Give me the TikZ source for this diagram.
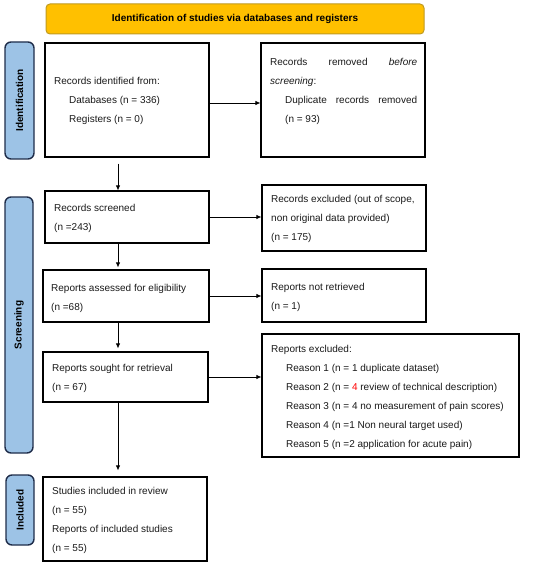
\documentclass[tikz,border=0pt]{standalone}
\usepackage{fontspec}
\setmainfont{Liberation Sans}
\usetikzlibrary{arrows.meta,calc}
\definecolor{hdrfill}{HTML}{FFC000}
\definecolor{hdrdraw}{HTML}{C09A20}
\definecolor{labfill}{HTML}{9DC3E6}
\definecolor{labdraw}{HTML}{1F2D4A}
\definecolor{txt}{HTML}{1A1A1A}
\begin{document}
\begin{tikzpicture}[x=1pt,y=-1pt,
  box/.style={draw=black, line width=1.1pt, inner sep=0pt, fill=white},
  hdr/.style={draw=hdrdraw, fill=hdrfill, line width=1pt, rounded corners=4pt, inner sep=0pt,
    font=\fontsize{10}{12}\selectfont\bfseries, text=black},
  lab/.style={draw=labdraw, fill=labfill, line width=1.4pt, rounded corners=6pt, inner sep=0pt},
  labtxt/.style={rotate=90, font=\fontsize{10}{12}\selectfont\bfseries, text=black, inner sep=0pt},
  txtnode/.style={anchor=base west, inner sep=0pt, text=txt, font=\fontsize{10}{19}\selectfont},
  arr/.style={-{Latex[length=5pt,width=4.5pt]}, line width=0.8pt, draw=black}]
\useasboundingbox (0,0) rectangle (550,564);
% header
\node[hdr, minimum width=378pt, minimum height=30pt] (hdr) at (235,19) {Identification of studies via databases and registers};
% side labels
\node[lab, minimum width=29pt, minimum height=117pt] (idlab) at (19.5,100.5) {};
\node[labtxt] (idlabt) at (idlab.center) {Identification};
\node[lab, minimum width=28pt, minimum height=256pt] (scrlab) at (19,325) {};
\node[labtxt] (scrlabt) at (scrlab.center) {Screening};
\node[lab, minimum width=28pt, minimum height=70pt] (inclab) at (20,510) {};
\node[labtxt] (inclabt) at (inclab.center) {Included};
% boxes
\node[box, minimum width=164pt, minimum height=114pt] (b1) at (127,100) {};
\node[box, minimum width=164pt, minimum height=114pt] (b2) at (343,100) {};
\node[box, minimum width=164pt, minimum height=52pt] (b3) at (127,217) {};
\node[box, minimum width=164pt, minimum height=66pt] (b4) at (344,218) {};
\node[box, minimum width=166pt, minimum height=52pt] (b5) at (126,296) {};
\node[box, minimum width=164pt, minimum height=53pt] (b6) at (344,295.5) {};
\node[box, minimum width=165pt, minimum height=50pt] (b7) at (125.5,377) {};
\node[box, minimum width=257pt, minimum height=123pt] (b8) at (390.5,395.5) {};
\node[box, minimum width=164pt, minimum height=84pt] (b9) at (125,519) {};
% texts
\node[txtnode] (t1) at (54,84.5) {\parbox[t]{150pt}{\baselineskip=19pt Records identified from:\\
\hspace*{15pt}Databases (n = 336)\\
\hspace*{15pt}Registers (n = 0)}};
\node[txtnode] (t2) at (270,65.5) {\parbox[t]{147pt}{\baselineskip=19pt\spaceskip=0.278em plus 3em
Records removed \textit{before}\linebreak \textit{screening}:\par
\leftskip=15pt Duplicate records removed\linebreak (n = 93)\par}};
\node[txtnode] (t3) at (54,211.5) {\parbox[t]{150pt}{\baselineskip=19pt Records screened\\(n =243)}};
\node[txtnode] (t4) at (271,202.5) {\parbox[t]{152pt}{\baselineskip=19pt Records excluded (out of scope,\\non original data provided)\\(n = 175)}};
\node[txtnode] (t5) at (51,291.5) {\parbox[t]{155pt}{\baselineskip=19pt Reports assessed for eligibility\\(n =68)}};
\node[txtnode] (t6) at (271,290.5) {\parbox[t]{150pt}{\baselineskip=19pt Reports not retrieved\\(n = 1)}};
\node[txtnode] (t7) at (52,371.5) {\parbox[t]{150pt}{\baselineskip=19pt Reports sought for retrieval\\(n = 67)}};
\node[txtnode] (t8) at (271,352.5) {\parbox[t]{245pt}{\baselineskip=19pt Reports excluded:\\
\hspace*{15pt}Reason 1 (n = 1 duplicate dataset)\\
\hspace*{15pt}Reason 2 (n = \textcolor{red}{4} review of technical description)\\
\hspace*{15pt}Reason 3 (n = 4 no measurement of pain scores)\\
\hspace*{15pt}Reason 4 (n =1 Non neural target used)\\
\hspace*{15pt}Reason 5 (n =2 application for acute pain)}};
\node[txtnode] (t9) at (52,494.5) {\parbox[t]{150pt}{\baselineskip=19pt Studies included in review\\(n = 55)\\Reports of included studies\\(n = 55)}};
% arrows
\coordinate (ax) at (118,0);
\draw[arr] ([yshift=-3pt]b1.east) -- ([yshift=-3pt]b1.east -| b2.west);
\draw[arr] (b3.east) -- (b3.east -| b4.west);
\draw[arr] (b5.east) -- (b5.east -| b6.west);
\draw[arr] (b7.east) -- (b7.east -| b8.west);
\draw[arr, shorten <=6pt] (b1.south -| ax) -- (b3.north -| ax);
\draw[arr, shorten >=2pt] (b3.south -| ax) -- (b5.north -| ax);
\draw[arr, shorten >=3pt] (b5.south -| ax) -- (b7.north -| ax);
\draw[arr, shorten >=6pt] (b7.south -| ax) -- (b9.north -| ax);
\end{tikzpicture}
\end{document}
